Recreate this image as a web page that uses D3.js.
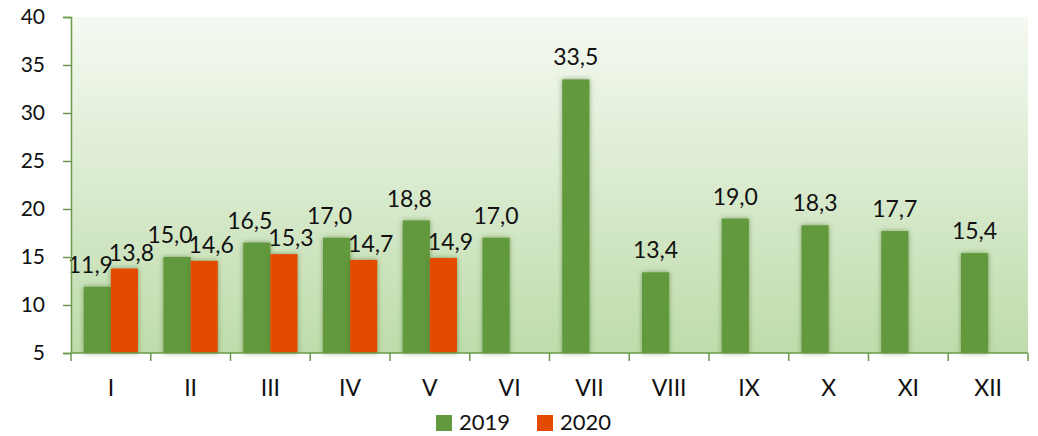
<!DOCTYPE html>
<html>
<head>
<meta charset="utf-8">
<script src="https://cdn.jsdelivr.net/npm/d3@7"></script>
<style>
  body { margin: 0; background: #fff; }
  text { font-family: Lato, "Open Sans", sans-serif; fill: #111; }
</style>
</head>
<body>
<div id="chart"></div>
<script>
const months = ["I", "II", "III", "IV", "V", "VI", "VII", "VIII", "IX", "X", "XI", "XII"];
const series = ["2019", "2020"];
const values2019 = [11.9, 15.0, 16.5, 17.0, 18.8, 17.0, 33.5, 13.4, 19.0, 18.3, 17.7, 15.4];
const values2020 = [13.8, 14.6, 15.3, 14.7, 14.9];
const yTicks = [5, 10, 15, 20, 25, 30, 35, 40];
const colors = ["#62993e", "#e24b00"];

const width = 1038, height = 436;
const margin = {top: 17, left: 71};
const plotW = 1028 - margin.left, plotH = 353 - margin.top;

let svg = d3.select("#chart").append("svg")
  .attr("width", width).attr("height", height);

let defs = svg.append("defs");
let grad = defs.append("linearGradient").attr("id", "bg")
  .attr("x1", 0).attr("y1", 0).attr("x2", 0).attr("y2", 1);
grad.append("stop").attr("offset", "0%").attr("stop-color", "#f5f9f2");
grad.append("stop").attr("offset", "100%").attr("stop-color", "#bedcab");

let shadow = defs.append("filter").attr("id", "shadow")
  .attr("x", "-30%").attr("y", "-10%").attr("width", "160%").attr("height", "120%");
shadow.append("feGaussianBlur").attr("in", "SourceAlpha").attr("stdDeviation", 2.5).attr("result", "blur");
shadow.append("feFlood").attr("flood-color", "#3d6a22").attr("flood-opacity", 0.6);
shadow.append("feComposite").attr("in2", "blur").attr("operator", "in");
let merge = shadow.append("feMerge");
merge.append("feMergeNode");
merge.append("feMergeNode").attr("in", "SourceGraphic");

let g = svg.append("g").attr("transform", `translate(${margin.left},${margin.top})`);

g.append("rect").attr("width", plotW).attr("height", plotH).attr("fill", "url(#bg)");

let x = d3.scaleBand().domain(months).range([0, plotW]).paddingInner(0.32).paddingOuter(0.16);
let xSub = d3.scaleBand().domain(series).range([0, x.bandwidth()]);
let y = d3.scaleLinear().domain([5, 40]).range([plotH, 0]);

let data = [];
months.forEach((m, i) => {
  let paired = values2020[i] !== undefined;
  data.push({month: m, series: "2019", value: values2019[i], paired: paired});
  if (paired) data.push({month: m, series: "2020", value: values2020[i], paired: true});
});

g.selectAll("rect.bar").data(data).enter().append("rect")
  .attr("class", "bar")
  .attr("x", d => x(d.month) + xSub(d.series))
  .attr("y", d => y(d.value))
  .attr("width", xSub.bandwidth())
  .attr("height", d => plotH - y(d.value))
  .attr("fill", d => colors[series.indexOf(d.series)])
  .attr("filter", "url(#shadow)");

// labels: in paired months push the two labels apart so they don't collide
g.selectAll("text.lbl").data(data).enter().append("text")
  .attr("class", "lbl")
  .attr("x", d => {
    let cx = x(d.month) + xSub(d.series) + xSub.bandwidth() / 2;
    if (!d.paired) return cx;
    return d.series === "2019" ? cx - 7 : cx + 7;
  })
  .attr("y", d => y(d.value) - (d.series === "2019" ? 14 : 8))
  .attr("text-anchor", "middle")
  .style("font-size", "23px")
  .text(d => d.value.toFixed(1).replace(".", ","));

// y axis
let yAxis = g.append("g").call(d3.axisLeft(y).tickValues(yTicks).tickSize(8).tickPadding(18));
yAxis.selectAll("text").style("font-size", "21px");

// x axis with ticks at category boundaries
let xAxis = g.append("g").attr("transform", `translate(0,${plotH})`);
xAxis.append("line").attr("x1", 0).attr("x2", plotW).attr("y1", 0).attr("y2", 0);
let step = plotW / months.length;
xAxis.selectAll("line.tk").data(d3.range(months.length + 1)).enter().append("line")
  .attr("class", "tk")
  .attr("x1", d => d * step).attr("x2", d => d * step)
  .attr("y1", 0).attr("y2", 8);
xAxis.selectAll("text").data(months).enter().append("text")
  .attr("x", (d, i) => (i + 0.5) * step)
  .attr("y", 43)
  .attr("text-anchor", "middle")
  .style("font-size", "23px")
  .text(d => d);

svg.selectAll(".domain, .tick line, line").attr("stroke", "#6a9a4a").attr("stroke-width", 1.5);

// legend
let legend = svg.append("g").attr("transform", "translate(436,415)");
let lx = [0, 101];
series.forEach((s, i) => {
  legend.append("rect").attr("x", lx[i]).attr("y", 0).attr("width", 16).attr("height", 16)
    .attr("fill", colors[i]);
  legend.append("text").attr("x", lx[i] + 23).attr("y", 15)
    .style("font-size", "22px").text(s);
});
</script>
</body>
</html>
